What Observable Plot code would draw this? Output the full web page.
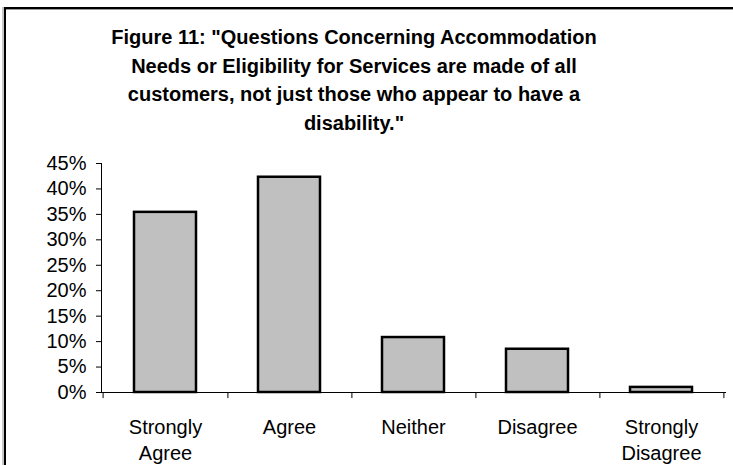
<!DOCTYPE html>
<html>
<head>
<meta charset="utf-8">
<script src="https://cdn.jsdelivr.net/npm/d3@7"></script>
<script src="https://cdn.jsdelivr.net/npm/@observablehq/plot@0.6"></script>
<style>
  html, body { margin: 0; padding: 0; background: #fff; }
  body { width: 733px; height: 465px; position: relative; overflow: hidden; font-family: "Liberation Sans", Arial, sans-serif; }
  #border { position: absolute; left: 4px; top: 7px; width: 900px; height: 700px; border-left: 2px solid #000; border-top: 2px solid #000; box-shadow: -2px 0 0 #c8c8c8, inset 0 1px 0 #999; }
  #title { position: absolute; left: 104px; width: 500px; top: 23px; text-align: center; font-weight: bold; font-size: 20px; line-height: 28.5px; white-space: nowrap; color: #000; }
  #chart { position: absolute; left: 0; top: 140px; }
</style>
</head>
<body>
<div id="border"></div>
<div id="title">Figure 11: "Questions Concerning Accommodation<br>Needs or Eligibility for Services are made of all<br>customers, not just those who appear to have a<br>disability."</div>
<div id="chart"></div>
<script>
const categories = ["Strongly Agree", "Agree", "Neither", "Disagree", "Strongly Disagree"];
const tickLabels = ["Strongly\nAgree", "Agree", "Neither", "Disagree", "Strongly\nDisagree"];
const values = [0.354, 0.423, 0.108, 0.085, 0.010];
const yTicks = [0, 0.05, 0.10, 0.15, 0.20, 0.25, 0.30, 0.35, 0.40, 0.45];

const data = categories.map((c, i) => ({category: c, value: values[i], label: tickLabels[i]}));

const W = 733, H = 325, mL = 101, mR = 8;
const step = (W - mL - mR) / categories.length;

const plot = Plot.plot({
  width: W,
  height: H,
  marginLeft: mL,
  marginRight: mR,
  marginTop: 23,
  marginBottom: 73,
  style: {fontFamily: '"Liberation Sans", Arial, sans-serif', fontSize: "20px", color: "#000", background: "transparent"},
  x: {domain: categories, paddingInner: 0.5, paddingOuter: 0.25, axis: null},
  y: {domain: [0, 0.45], axis: null},
  marks: [
    Plot.barY(data, {x: "category", y: "value", fill: "#c0c0c0", stroke: "#000", strokeWidth: 2.5}),
    Plot.frame({anchor: "left", stroke: "#000"}),
    Plot.frame({anchor: "bottom", stroke: "#000"}),
    Plot.axisY({ticks: yTicks, tickFormat: d3.format(".0%"), tickSize: 5, tickPadding: 10, fontSize: 20, stroke: "#000", fill: "#000", label: null}),
    Plot.ruleX(categories, {x: d => d, dx: step / 2, y1: 0, y2: -0.012, stroke: "#000"}),
    Plot.ruleX(categories.slice(0, 1), {x: d => d, dx: -step / 2, y1: 0, y2: -0.012, stroke: "#000"}),
    Plot.text(data, {x: "category", y: () => 0, text: "label", lineAnchor: "top", lineHeight: 1.3, dy: 23, fontSize: 20, fill: "#000"})
  ]
});
document.getElementById("chart").appendChild(plot);
</script>
</body>
</html>
